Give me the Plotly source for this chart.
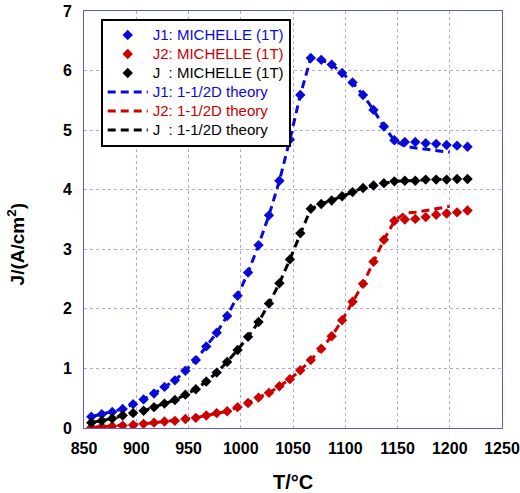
import plotly.graph_objects as go

# Temperatures (°C) of the MICHELLE points
T = [857, 867, 877, 887, 897, 907, 917, 927, 937, 947, 957, 967, 977, 987, 997,
     1007, 1017, 1027, 1037, 1047, 1057, 1067, 1077, 1087, 1097, 1107, 1117, 1127,
     1137, 1147, 1157, 1167, 1177, 1187, 1197, 1207, 1217]

J1_michelle = [0.19, 0.23, 0.27, 0.32, 0.40, 0.48, 0.58, 0.69, 0.80, 0.96, 1.14, 1.37,
               1.60, 1.88, 2.22, 2.61, 3.07, 3.57, 4.15, 4.84, 5.59, 6.21, 6.18, 6.10,
               5.96, 5.80, 5.59, 5.34, 5.06, 4.83, 4.80, 4.80, 4.78, 4.77, 4.75, 4.74, 4.72]
J2_michelle = [0.01, 0.02, 0.03, 0.04, 0.05, 0.07, 0.09, 0.11, 0.12, 0.15, 0.17, 0.21,
               0.25, 0.28, 0.35, 0.42, 0.51, 0.59, 0.70, 0.82, 0.97, 1.14, 1.33, 1.54,
               1.81, 2.12, 2.42, 2.79, 3.16, 3.48, 3.50, 3.51, 3.54, 3.58, 3.60, 3.62, 3.65]
J_michelle = [0.09, 0.12, 0.16, 0.21, 0.25, 0.29, 0.35, 0.41, 0.47, 0.56, 0.65, 0.78,
              0.93, 1.11, 1.31, 1.53, 1.78, 2.09, 2.43, 2.83, 3.27, 3.68, 3.76, 3.82,
              3.89, 3.96, 4.03, 4.07, 4.11, 4.14, 4.15, 4.15, 4.17, 4.17, 4.17, 4.18, 4.18]

# 1-1/2D theory curves
T_theory = [857, 867, 877, 887, 897, 907, 917, 927, 937, 947, 957, 967, 977, 987, 997,
            1007, 1017, 1027, 1037, 1047, 1057, 1067, 1077, 1087, 1097, 1107, 1117, 1127,
            1137, 1147, 1157, 1167, 1177, 1187, 1200]
J1_theory = [0.19, 0.23, 0.27, 0.32, 0.40, 0.48, 0.58, 0.69, 0.80, 0.96, 1.14, 1.37,
             1.60, 1.88, 2.22, 2.61, 3.07, 3.57, 4.15, 4.84, 5.59, 6.21, 6.18, 6.10,
             5.96, 5.80, 5.59, 5.34, 5.06, 4.83, 4.73, 4.70, 4.68, 4.66, 4.63]
J2_theory = [0.01, 0.02, 0.03, 0.04, 0.05, 0.07, 0.09, 0.11, 0.12, 0.15, 0.17, 0.21,
             0.25, 0.28, 0.35, 0.42, 0.51, 0.59, 0.70, 0.82, 0.97, 1.14, 1.33, 1.54,
             1.81, 2.12, 2.42, 2.79, 3.16, 3.47, 3.61, 3.62, 3.65, 3.68, 3.72]
J_theory = [0.09, 0.12, 0.16, 0.21, 0.25, 0.29, 0.35, 0.41, 0.47, 0.56, 0.65, 0.78,
            0.93, 1.11, 1.31, 1.53, 1.78, 2.09, 2.43, 2.83, 3.27, 3.68, 3.76, 3.82,
            3.89, 3.96, 4.03, 4.07, 4.11, 4.14, 4.15, 4.15, 4.17, 4.17, 4.17]

x_ticks = [850, 900, 950, 1000, 1050, 1100, 1150, 1200, 1250]
y_ticks = [0, 1, 2, 3, 4, 5, 6, 7]

BLUE = "#0a0ad8"
RED = "#cc0000"
BLACK = "#000000"
FONT = "Arial, Liberation Sans, sans-serif"

def label(txt, color):
    return f"<span style='color:{color};font-size:15px'>{txt}</span>"

fig = go.Figure()

theory = [
    (J1_theory, BLUE, "J1: 1-1/2D theory", 4),
    (J2_theory, RED, "J2: 1-1/2D theory", 5),
    (J_theory, BLACK, "J\u00a0\u00a0: 1-1/2D theory", 6),
]
for ys, col, name, rank in theory:
    fig.add_trace(go.Scatter(
        x=T_theory, y=ys, mode="lines", name=label(name, col), legendrank=rank,
        line=dict(color=col, width=3, dash="8px,5px"),
    ))

meas = [
    (J1_michelle, BLUE, "J1: MICHELLE (1T)", 1),
    (J2_michelle, RED, "J2: MICHELLE (1T)", 2),
    (J_michelle, BLACK, "J\u00a0\u00a0: MICHELLE (1T)", 3),
]
for ys, col, name, rank in meas:
    fig.add_trace(go.Scatter(
        x=T, y=ys, mode="markers", name=label(name, col), legendrank=rank,
        marker=dict(symbol="diamond", size=8, color=col, line=dict(width=0)),
    ))

axis_common = dict(
    showline=True, linecolor="#5a5ae0", linewidth=1, mirror=True,
    showgrid=True, gridcolor="#a8a8f0", griddash="dot", gridwidth=1,
    zeroline=False, ticks="", automargin=False,
    tickfont=dict(family=FONT, size=16, color="black", weight="bold"),
)

fig.update_layout(
    width=520, height=493,
    margin=dict(l=84, r=18, t=11, b=65, autoexpand=False),
    paper_bgcolor="white", plot_bgcolor="white",
    font=dict(family=FONT, color="black"),
    showlegend=True,
    legend=dict(
        x=0.04, y=0.982, xanchor="left", yanchor="top",
        bgcolor="white", bordercolor="black", borderwidth=2,
        itemwidth=40,
        font=dict(family=FONT, size=12, color="black"),
    ),
    xaxis=dict(range=[850, 1250], tickvals=x_ticks, ticklabelstandoff=6, **axis_common),
    yaxis=dict(range=[0, 7], tickvals=y_ticks, ticklabelstandoff=8, **axis_common),
    annotations=[
        dict(text="T/°C", xref="paper", yref="paper", x=0.5, y=-0.13,
             xanchor="center", yanchor="middle", showarrow=False,
             font=dict(family=FONT, size=20, color="black", weight="bold")),
        dict(text="J/(A/cm<sup>2</sup>)", xref="paper", yref="paper", x=-0.163, y=0.44,
             xanchor="center", yanchor="middle", showarrow=False, textangle=-90,
             font=dict(family=FONT, size=19, color="black", weight="bold")),
    ],
)

fig.write_html(
    "out.html",
    config={"displayModeBar": False},
    post_script="document.body.style.margin='0';document.body.style.overflow='hidden';",
)
